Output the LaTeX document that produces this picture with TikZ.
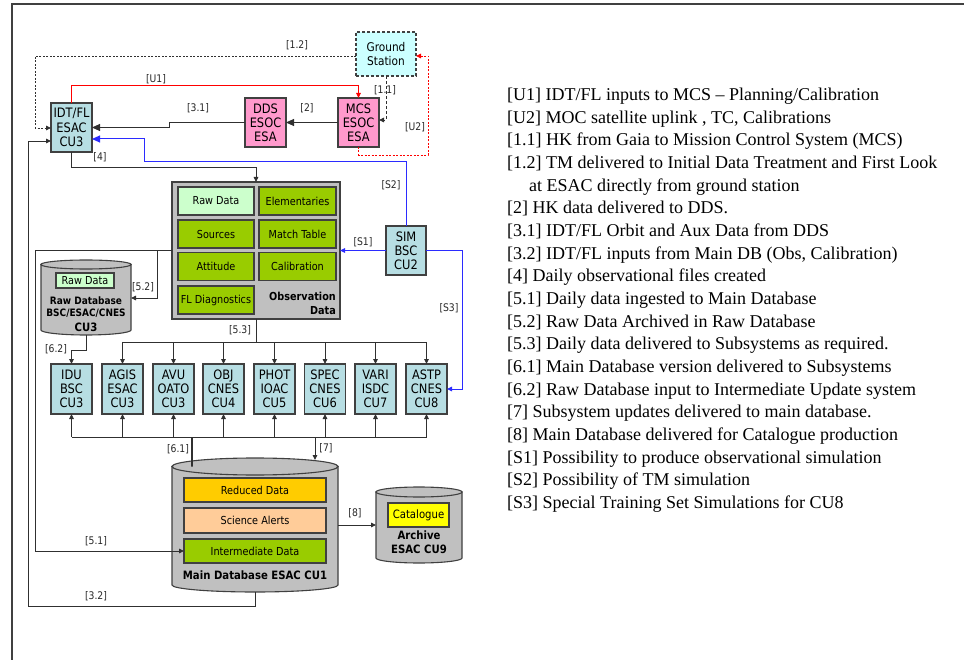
\documentclass[tikz,border=0pt]{standalone}
\usepackage{fontspec}
\setmainfont{Liberation Serif}
\newfontfamily\dv[FakeStretch=0.88]{DejaVu Sans}
\usetikzlibrary{arrows.meta,calc}
\definecolor{bord}{HTML}{404040}
\definecolor{ln}{HTML}{303030}
\definecolor{teal0}{HTML}{B7DEE3}
\definecolor{cyan0}{HTML}{CCFFFF}
\definecolor{pink0}{HTML}{FF99CC}
\definecolor{gray0}{HTML}{C0C0C0}
\definecolor{green0}{HTML}{99CC00}
\definecolor{lgreen0}{HTML}{CCFFCC}
\definecolor{orange0}{HTML}{FFCC00}
\definecolor{peach0}{HTML}{FFCC99}
\definecolor{yellow0}{HTML}{FFFF00}
\definecolor{blue0}{HTML}{2B2BFF}
\definecolor{red0}{HTML}{FF0000}
\begin{document}
\begin{tikzpicture}[x=1pt,y=-1pt,
 box/.style={draw=bord,line width=1.1pt,inner sep=0pt,outer sep=0pt,align=center,font=\dv\fontsize{13}{14.2}\selectfont},
 unit/.style={box,fill=teal0,minimum width=41,minimum height=50},
 esoc/.style={box,fill=pink0,minimum width=41,minimum height=49},
 inbox/.style={box,font=\dv\fontsize{11}{12}\selectfont,minimum height=28},
 lab/.style={font=\dv\fontsize{10.5}{12}\selectfont,inner sep=0pt,text=black!85},
 captxt/.style={font=\dv\bfseries\fontsize{11}{13.5}\selectfont,inner sep=0pt,align=center},
 conn/.style={draw=ln,line width=0.9pt},
 tip/.style={-{Triangle[length=5pt,width=4.5pt]}},
 bigtip/.style={-{Triangle[length=8pt,width=7pt]}},
 dots/.style={dash pattern=on 2pt off 1.5pt},
 dash2/.style={dash pattern=on 3pt off 2pt},
 cyl/.style={draw=bord,line width=1.1pt,fill=gray0},
 leg/.style={font=\fontsize{18}{22}\selectfont,anchor=base west,inner sep=0pt},
]
\useasboundingbox (0,0) rectangle (964,660);
\draw[draw=bord,line width=1.1pt] (12,660) -- (12,4) -- (964,4);

% ---------- top boxes
\node[box,fill=cyan0,dash2,minimum width=60,minimum height=44,font=\dv\fontsize{12}{14}\selectfont] (gs) at (386,54) {Ground\\Station};
\node[unit,minimum height=49] (idt) at (71.5,127.5) {IDT/FL\\ESAC\\CU3};
\node[esoc] (dds) at (265.5,122.5) {DDS\\ESOC\\ESA};
\node[esoc] (mcs) at (358.5,122.5) {MCS\\ESOC\\ESA};

% ---------- observation data
\node[box,fill=gray0,minimum width=168,minimum height=137,line width=1.5pt] (obs) at (256,250.5) {};
\node[inbox,fill=lgreen0,minimum width=76] (rawd) at (216,201) {Raw Data};
\node[inbox,fill=green0,minimum width=77] (elem) at (297.5,201) {Elementaries};
\node[inbox,fill=green0,minimum width=76] (src) at (216,234) {Sources};
\node[inbox,fill=green0,minimum width=77] (mtab) at (297.5,234) {Match Table};
\node[inbox,fill=green0,minimum width=76] (att) at (216,266.5) {Attitude};
\node[inbox,fill=green0,minimum width=77] (calib) at (297.5,266.5) {Calibration};
\node[inbox,fill=green0,minimum width=76] (fld) at (216,300) {FL Diagnostics};
\node[captxt,anchor=east,align=right] (obslab) at (336,303.5) {Observation\\Data};

\node[unit,minimum width=40,minimum height=49] (sim) at (406,250.5) {SIM\\BSC\\CU2};

% ---------- raw database
\path[cyl] (41,264.5) -- (41,330) arc[start angle=180,end angle=0,x radius=45,y radius=5] -- (131,264.5) -- cycle;
\draw[cyl] (86,264.5) ellipse[x radius=45,y radius=4.5];
\node[inner sep=0pt,outer sep=0pt,minimum width=90,minimum height=70.5] (rawdb) at (86,299.75) {};
\node[inbox,fill=lgreen0,minimum width=58,minimum height=15] (rawd2) at (85,280.5) {Raw Data};
\node[captxt,font=\dv\bfseries\fontsize{10.2}{12}\selectfont] (rawdbl) at (86,300.5) {Raw Database};
\node[captxt,font=\dv\bfseries\fontsize{10.2}{11}\selectfont] (rawdbl2) at (86,313.5) {BSC/ESAC/CNES};
\node[captxt,font=\dv\bfseries\fontsize{11.5}{12}\selectfont] (rawdbl3) at (86,327) {CU3};

% ---------- coordination units
\node[unit] (cu1) at (71.5,389) {IDU\\BSC\\CU3};
\node[unit] (cu2) at (122.5,389) {AGIS\\ESAC\\CU3};
\node[unit] (cu3) at (173.5,389) {AVU\\OATO\\CU3};
\node[unit] (cu4) at (223.5,389) {OBJ\\CNES\\CU4};
\node[unit] (cu5) at (274.5,389) {PHOT\\IOAC\\CU5};
\node[unit] (cu6) at (325,389) {SPEC\\CNES\\CU6};
\node[unit] (cu7) at (375.5,389) {VARI\\ISDC\\CU7};
\node[unit] (cu8) at (426.5,389) {ASTP\\CNES\\CU8};

% ---------- main database
\path[cyl] (172,466.5) -- (172,585) arc[start angle=180,end angle=0,x radius=83,y radius=7] -- (338,466.5) -- cycle;
\draw[cyl] (255,466.5) ellipse[x radius=83,y radius=8.5];
\node[inner sep=0pt,outer sep=0pt,minimum width=166,minimum height=125.5] (maindb) at (255,529.25) {};
\node[inbox,fill=orange0,minimum width=142,minimum height=24] (redd) at (255,490) {Reduced Data};
\node[inbox,fill=peach0,minimum width=142,minimum height=25] (sci) at (255,520.5) {Science Alerts};
\node[inbox,fill=green0,minimum width=142,minimum height=24] (inter) at (255,551) {Intermediate Data};
\node[captxt,font=\dv\bfseries\fontsize{11.5}{13}\selectfont] (mainl) at (255,575.5) {Main Database ESAC CU1};

% ---------- archive
\path[cyl] (376,492) -- (376,558) arc[start angle=180,end angle=0,x radius=43,y radius=5] -- (462,492) -- cycle;
\draw[cyl] (419,492) ellipse[x radius=43,y radius=5];
\node[inner sep=0pt,outer sep=0pt,minimum width=86,minimum height=71] (archive) at (419,527.5) {};
\node[inbox,fill=yellow0,minimum width=61,minimum height=24,font=\dv\fontsize{11.5}{12}\selectfont] (cat) at (418.5,515) {Catalogue};
\node[captxt,align=center,font=\dv\bfseries\fontsize{11.5}{14}\selectfont] (archl) at (419,542) {Archive\\ESAC CU9};

% ---------- connectors
\draw[conn,dots,tip] (gs.west |- 0,56) -- (35,56) -- (35,128) -- (idt.west |- 0,128);
\draw[conn,draw=red0,tip] (idt.north) -- (71.5,85) -| (mcs.north);
\draw[conn,bigtip] (dds.west) -- (169,122.5) -- (169,127.5) -- (idt.east);
\draw[conn,bigtip] (mcs.west) -- (dds.east);
\draw[conn,dash2,tip] (gs.south) |- (mcs.east |- 0,120);
\draw[conn,draw=red0,dots,tip] (mcs.south) -- (358.5,155) -- (428,155) -- (428,56) -- (gs.east |- 0,56);
\draw[conn,draw=blue0,line width=1pt,bigtip] (sim.north) -- (406,162) -- (144,162) -- (144,139) -- (idt.east |- 0,139);
\draw[conn,tip] (idt.south) -- (71.5,167) -| (obs.north);
\draw[conn,draw=blue0,line width=1pt,tip] (sim.west) -- (obs.east);
\draw[conn,draw=blue0,line width=1pt,tip] (sim.east) -- (462,250.5) |- (cu8.east);
\draw[conn,tip] (obs.west) -- (35,250.5) |- (inter.west);
\draw[conn,tip] (157,250.5) |- (rawdb.east |- 0,298);
\draw[conn,tip] (rawdb.south) -- (86,350) -| (cu1.north);
\draw[conn] (obs.south) -- (256,342);
\draw[conn] (cu2.north |- 0,342) -- (cu8.north |- 0,342);
\foreach \c in {cu2,cu3,cu4,cu5,cu6,cu7,cu8}
  \draw[conn,tip] (\c.north |- 0,342) -- (\c.north);
\draw[conn] (cu1.south |- 0,437) -- (cu8.south |- 0,437);
\foreach \c in {cu1,cu2,cu3,cu4,cu5,cu6,cu7,cu8}
  \draw[conn,tip] (\c.south |- 0,437) -- (\c.south);
\draw[conn,line width=1.8pt] (192,437) -- (maindb.north -| 192,0) -- ++(0,-4.5);
\draw[conn,tip] (315,437) -- (315,460);
\draw[conn,tip] (maindb.south -| 255,0) -- (255,606) -- (28,606) -- (28,141) -- (idt.west |- 0,141);
\draw[conn,tip] (maindb.east |- 0,525) -- (archive.west |- 0,525);

% ---------- connector labels
\node[lab] (l12) at (297,45) {[1.2]};
\node[lab] (lu1) at (156,79) {[U1]};
\node[lab] (l31) at (198,108) {[3.1]};
\node[lab] (l2) at (307,108) {[2]};
\node[lab] (l11) at (385,90) {[1.1]};
\node[lab] (lu2) at (415,127) {[U2]};
\node[lab] (ls2) at (391,185) {[S2]};
\node[lab] (l4) at (100,157) {[4]};
\node[lab] (ls1) at (363,242) {[S1]};
\node[lab] (ls3) at (449,308) {[S3]};
\node[lab] (l52) at (143,287) {[5.2]};
\node[lab] (l51) at (96,541) {[5.1]};
\node[lab] (l62) at (56,349) {[6.2]};
\node[lab] (l53) at (240,330) {[5.3]};
\node[lab] (l61) at (178,449) {[6.1]};
\node[lab] (l7) at (326,448) {[7]};
\node[lab] (l32) at (96,596) {[3.2]};
\node[lab] (l8) at (355,513) {[8]};

% ---------- legend
\node[leg] (g1) at (507,100.5) {[U1] IDT/FL inputs to MCS – Planning/Calibration};
\node[leg] (g2) at (507,123.2) {[U2] MOC satellite uplink , TC, Calibrations};
\node[leg] (g3) at (507,145.8) {[1.1] HK from Gaia to Mission Control System (MCS)};
\node[leg] (g4) at (507,168.5) {[1.2] TM delivered to Initial Data Treatment and First Look};
\node[leg] (g5) at (529,191.2) {at ESAC directly from ground station};
\node[leg] (g6) at (507,213.8) {[2] HK data delivered to DDS.};
\node[leg] (g7) at (507,236.5) {[3.1] IDT/FL Orbit and Aux Data from DDS};
\node[leg] (g8) at (507,259.2) {[3.2] IDT/FL inputs from Main DB (Obs, Calibration)};
\node[leg] (g9) at (507,281.9) {[4] Daily observational files created};
\node[leg] (g10) at (507,304.5) {[5.1] Daily data ingested to Main Database};
\node[leg] (g11) at (507,327.2) {[5.2] Raw Data Archived in Raw Database};
\node[leg] (g12) at (507,349.9) {[5.3] Daily data delivered to Subsystems as required.};
\node[leg] (g13) at (507,372.5) {[6.1] Main Database version delivered to Subsystems};
\node[leg] (g14) at (507,395.2) {[6.2] Raw Database input to Intermediate Update system};
\node[leg] (g15) at (507,417.9) {[7] Subsystem updates delivered to main database.};
\node[leg] (g16) at (507,440.5) {[8] Main Database delivered for Catalogue production};
\node[leg] (g17) at (507,463.2) {[S1] Possibility to produce observational simulation};
\node[leg] (g18) at (507,485.9) {[S2] Possibility of TM simulation};
\node[leg] (g19) at (507,508.5) {[S3] Special Training Set Simulations for CU8};
\end{tikzpicture}
\end{document}
